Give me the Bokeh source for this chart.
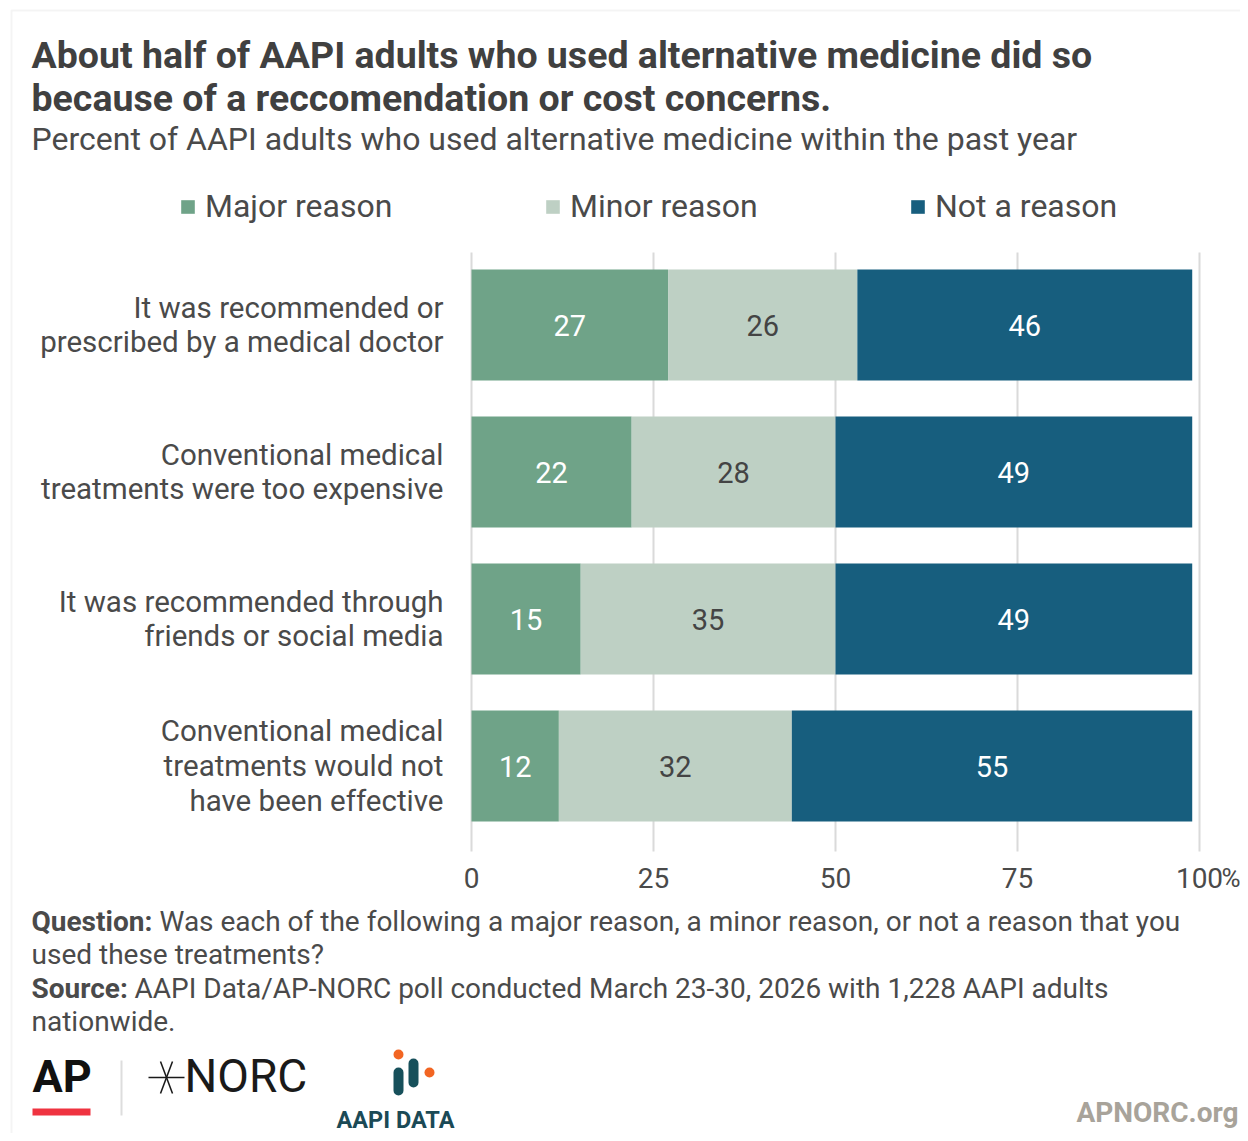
from bokeh.plotting import figure
from bokeh.models import (Range1d, Label, Legend, LegendItem, ColumnDataSource, BoxAnnotation)
from bokeh.transform import stack
from bokeh.embed import file_html
from bokeh.resources import INLINE
from bokeh.core.properties import value

# ---------------- data ----------------
categories = [
    "It was recommended or\nprescribed by a medical doctor",
    "Conventional medical\ntreatments were too expensive",
    "It was recommended through\nfriends or social media",
    "Conventional medical\ntreatments would not\nhave been effective",
]
major = [27, 22, 15, 12]
minor = [26, 28, 35, 32]
not_reason = [46, 49, 49, 55]
series_keys = ["major", "minor", "not_reason"]
series_names = ["Major reason", "Minor reason", "Not a reason"]
x_ticks = [0, 25, 50, 75, 100]
x_tick_labels = ["0", "25", "50", "75", "100"]

title_lines = ["About half of AAPI adults who used alternative medicine did so",
               "because of a reccomendation or cost concerns."]
subtitle = "Percent of AAPI adults who used alternative medicine within the past year"
question_lines = ["Was each of the following a major reason, a minor reason, or not a reason that you",
                  "used these treatments?"]
source_lines = ["AAPI Data/AP-NORC poll conducted March 23-30, 2026 with 1,228 AAPI adults",
                "nationwide."]

# ---------------- style ----------------
colors = ["#6fa388", "#bed0c4", "#175e7e"]
label_colors = ["#ffffff", "#444444", "#ffffff"]
FONT = "Roboto"
TXT = "#4a4a4a"

W, H = 1240, 1133
PXU_X = 7.28      # px per percent
X0 = 471          # px of 0 %
PXU_Y = 147       # px per row
Y0 = 324.5        # px of first row centre

src = ColumnDataSource(dict(cat=categories, row=list(range(len(categories))),
                            major=major, minor=minor, not_reason=not_reason))
cum = [0] * len(categories)
for k, vals in zip(series_keys, [major, minor, not_reason]):
    src.data["mid_" + k] = [c + v / 2 for c, v in zip(cum, vals)]
    src.data["lbl_" + k] = [str(v) for v in vals]
    cum = [c + v for c, v in zip(cum, vals)]

p = figure(width=W, height=H, output_backend="svg", toolbar_location=None,
           x_range=Range1d(-X0 / PXU_X, (W - X0) / PXU_X),
           y_range=Range1d((H - Y0) / PXU_Y, -Y0 / PXU_Y),
           x_axis_location=None, y_axis_location=None,
           min_border=0)
p.outline_line_color = None
p.grid.visible = False


def dx(px):   # page px -> data x (decoration placement)
    return (px - X0) / PXU_X


def dy(py):   # page px -> data y
    return (py - Y0) / PXU_Y


# grid lines at the tick positions
p.segment(x0=x_ticks, x1=x_ticks, y0=[dy(252)] * len(x_ticks), y1=[dy(851)] * len(x_ticks),
          line_color="#dadada", line_width=2)

renderers = []
for i, k in enumerate(series_keys):
    r = p.hbar(y="row", left=stack(*series_keys[:i]), right=stack(*series_keys[:i + 1]),
               height=0.755, fill_color=colors[i], line_color=None, source=src)
    renderers.append(r)
    p.text(x="mid_" + k, y="row", text="lbl_" + k, source=src, text_align="center",
           text_baseline="middle", text_font=value(FONT), text_font_size="29px",
           text_color=label_colors[i])

# category labels
p.text(x=dx(443), y="row", text="cat", source=src, text_align="right", text_baseline="middle",
       text_font=value(FONT), text_font_size="29.5px", text_color=TXT, text_line_height=1.02)

# x tick labels
p.text(x=x_ticks, y=[dy(877)] * len(x_ticks), text=x_tick_labels, text_align="center",
       text_baseline="middle", text_font=value(FONT), text_font_size="28px", text_color=TXT)
p.text(x=[x_ticks[-1]], y=[dy(877)], text=["%"], x_offset=22, text_align="left",
       text_baseline="middle", text_font=value(FONT), text_font_size="26px", text_color=TXT)

# legends
leg_x = [179, 544, 909]
for i in range(3):
    lg = Legend(items=[LegendItem(label=series_names[i], renderers=[renderers[i]])],
                location=(leg_x[i], H - 225), orientation="horizontal", padding=0, margin=0,
                border_line_color=None, background_fill_alpha=0, glyph_width=17,
                glyph_height=17, label_standoff=9, label_text_font=FONT,
                label_text_font_size="32px", label_text_color=TXT, label_height=38)
    p.add_layout(lg, "center")


def L(text, X, Ytop, size, color=TXT, style="normal", align="left", lh=1.0):
    p.add_layout(Label(x=X, y=H - Ytop, x_units="screen", y_units="screen", text=text,
                       text_font=FONT, text_font_size=size, text_color=color,
                       text_font_style=style, text_align=align, text_baseline="top",
                       text_line_height=lh))


def B(l, r, t, b, color, radius=0, line=False):
    if line:
        kw = dict(fill_alpha=0, line_color=color, line_width=2)
    else:
        kw = dict(fill_color=color, fill_alpha=1, line_color=None)
    p.add_layout(BoxAnnotation(left=l, right=r, top=H - t, bottom=H - b, left_units="screen",
                               right_units="screen", top_units="screen", bottom_units="screen",
                               border_radius=radius, level="underlay", **kw))


# container border
B(11, 1400, 10, 1300, "#dcdcdc", line=True)

# titles
L(title_lines[0], 31, 32, "37.5px", color="#404040", style="bold")
L(title_lines[1], 31, 75, "37.5px", color="#404040", style="bold")
L(subtitle, 31, 119, "32px")

# footer
L("Question:", 31, 904, "28px", style="bold")
L(question_lines[0], 159, 904, "28px")
L(question_lines[1], 31, 937, "28px")
L("Source:", 31, 971, "28px", style="bold")
L(source_lines[0], 134, 971, "28px")
L(source_lines[1], 31, 1004, "28px")

# logos
L("AP", 32, 1049, "45px", color="#111111", style="bold")
B(32, 90, 1108, 1115, "#ef3340")
B(120, 122, 1060, 1115, "#dddddd")
p.segment(x0=[dx(148), dx(160), dx(160)], x1=[dx(184), dx(172), dx(172)],
          y0=[dy(1077), dy(1061), dy(1093)], y1=[dy(1077), dy(1093), dy(1061)],
          line_color="#1a1a1a", line_width=1.5)
L("NORC", 184, 1048, "46px", color="#1a1a1a")
B(393, 403, 1049, 1059, "#f26522", radius=5)
B(424, 434, 1067, 1077, "#f26522", radius=5)
B(393, 403, 1067, 1095, "#17505b", radius=5)
B(408, 418, 1058, 1087, "#17505b", radius=5)
L("AAPI DATA", 336, 1105, "23.5px", color="#1b4a56", style="bold")
L("APNORC.org", 1238, 1095, "28px", color="#a8a39a", style="bold", align="right")

out = file_html(p, INLINE)
open("out.html", "w").write(out)
